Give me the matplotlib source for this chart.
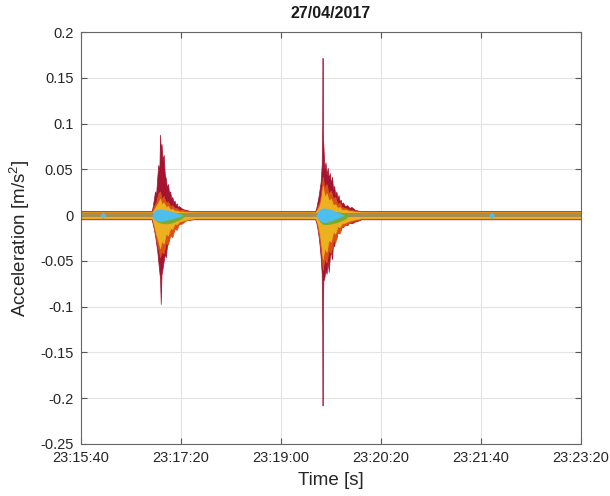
import numpy as np
import matplotlib
matplotlib.use("Agg")
import matplotlib.pyplot as plt

plt.rcParams['font.family'] = ['Liberation Sans', 'DejaVu Sans']
plt.rcParams['mathtext.fontset'] = 'custom'
plt.rcParams['mathtext.rm'] = 'Liberation Sans'
plt.rcParams['mathtext.default'] = 'regular'

# tiempo en segundos desde 23:15:40
t_start = 0.0
t_end = 460.0

# --- canal rojo (el de mayor amplitud), envolventes ---
red_t1 = [65, 66, 67, 68, 69, 70, 71, 72, 72.7, 73.3, 74, 75, 76, 77, 78, 79, 80, 81, 82,
          83, 84, 85, 86, 87, 88, 89, 90, 92, 94, 96, 99, 103]
red_up1 = [0.0045, 0.010, 0.018, 0.026, 0.022, 0.040, 0.055, 0.048, 0.088, 0.070, 0.078, 0.060,
           0.066, 0.045, 0.040, 0.030, 0.034, 0.024, 0.026, 0.018, 0.020, 0.014, 0.016, 0.011,
           0.013, 0.009, 0.010, 0.008, 0.0065, 0.006, 0.005, 0.0045]
red_lo1 = [-0.0045, -0.010, -0.015, -0.022, -0.030, -0.038, -0.050, -0.062, -0.070, -0.097, -0.065,
           -0.058, -0.050, -0.042, -0.046, -0.034, -0.030, -0.026, -0.020, -0.022, -0.016, -0.018,
           -0.013, -0.014, -0.010, -0.011, -0.008, -0.009, -0.007, -0.0055, -0.005, -0.0045]
red_t2 = [215.5, 216.5, 217.5, 218.5, 219.5, 220.5, 221.5, 222.0, 222.3, 222.6, 223, 224, 225,
          226, 227, 228, 229, 230, 231, 232, 233, 234, 235, 236, 237, 238, 239, 240, 241, 243,
          245, 247, 249, 252, 255, 258]
red_up2 = [0.0045, 0.008, 0.014, 0.020, 0.028, 0.036, 0.055, 0.100, 0.172, 0.090, 0.078, 0.050,
           0.058, 0.044, 0.052, 0.040, 0.046, 0.034, 0.042, 0.028, 0.032, 0.022, 0.026, 0.018,
           0.022, 0.015, 0.017, 0.012, 0.014, 0.010, 0.011, 0.008, 0.009, 0.006, 0.005, 0.0045]
red_lo2 = [-0.0045, -0.008, -0.014, -0.022, -0.032, -0.045, -0.064, -0.120, -0.208, -0.110, -0.072,
           -0.068, -0.060, -0.064, -0.050, -0.062, -0.045, -0.040, -0.048, -0.030, -0.034, -0.024,
           -0.026, -0.018, -0.020, -0.015, -0.016, -0.012, -0.013, -0.010, -0.011, -0.008, -0.009,
           -0.007, -0.006, -0.0045]

# --- naranja y amarillo, grilla de 2 s ---
ev1_t = [65.5, 67, 69, 71, 72.7, 74, 76, 78, 80, 82, 84, 86, 88, 90, 93, 96, 100, 105]
ev2_t = [216, 218, 220, 221.5, 222.5, 224, 226, 228, 230, 232, 234, 236, 238, 240, 243, 247, 252, 258]

ora_up1 = [0.0040, 0.010, 0.014, 0.024, 0.026, 0.018, 0.021, 0.014, 0.015, 0.010, 0.011, 0.008,
           0.008, 0.006, 0.006, 0.005, 0.0045, 0.0040]
ora_lo1 = [-0.0040, -0.014, -0.026, -0.036, -0.046, -0.040, -0.042, -0.030, -0.032, -0.022, -0.024,
           -0.015, -0.016, -0.010, -0.009, -0.006, -0.005, -0.0040]
ora_up2 = [0.0040, 0.010, 0.016, 0.030, 0.042, 0.030, 0.034, 0.024, 0.027, 0.018, 0.020, 0.012,
           0.014, 0.009, 0.008, 0.006, 0.005, 0.0040]
ora_lo2 = [-0.0040, -0.014, -0.030, -0.046, -0.060, -0.048, -0.052, -0.038, -0.042, -0.028, -0.030,
           -0.019, -0.020, -0.013, -0.011, -0.008, -0.006, -0.0040]

yel_up1 = [0.0032, 0.006, 0.010, 0.014, 0.018, 0.012, 0.014, 0.009, 0.010, 0.006, 0.007, 0.005,
           0.005, 0.004, 0.004, 0.0035, 0.0033, 0.0032]
yel_lo1 = [-0.0032, -0.010, -0.020, -0.028, -0.036, -0.028, -0.031, -0.020, -0.022, -0.014, -0.015,
           -0.009, -0.010, -0.007, -0.006, -0.005, -0.004, -0.0032]
yel_up2 = [0.0032, 0.007, 0.012, 0.022, 0.032, 0.020, 0.024, 0.016, 0.018, 0.011, 0.012, 0.008,
           0.009, 0.006, 0.006, 0.0045, 0.004, 0.0032]
yel_lo2 = [-0.0032, -0.010, -0.022, -0.036, -0.048, -0.036, -0.040, -0.027, -0.029, -0.018, -0.020,
           -0.012, -0.013, -0.009, -0.008, -0.006, -0.0045, -0.0032]

# verde: casi oculto, asoma por debajo del celeste
gre_t1 = [66, 69, 72, 76, 80, 84, 88, 92, 96]
gre_up1 = [0.0, 0.003, 0.004, 0.004, 0.0035, 0.003, 0.0025, 0.002, 0.0]
gre_lo1 = [0.0, -0.006, -0.008, -0.009, -0.009, -0.008, -0.006, -0.004, 0.0]
gre_t2 = [217, 220, 223, 227, 231, 235, 239, 243, 247]
gre_up2 = [0.0, 0.004, 0.005, 0.0045, 0.004, 0.0035, 0.003, 0.002, 0.0]
gre_lo2 = [0.0, -0.007, -0.010, -0.010, -0.009, -0.008, -0.006, -0.004, 0.0]

# celeste: solo aparece en los eventos y en dos pequeños picos
cya_t1 = [65.5, 67, 69, 71, 73, 75, 78, 81, 84, 87, 90, 93]
cya_up1 = [0.0, 0.004, 0.0055, 0.006, 0.0065, 0.006, 0.0055, 0.0045, 0.0035, 0.0025, 0.0015, 0.0]
cya_t2 = [216.5, 218, 220, 222, 224, 227, 230, 233, 236, 239, 242]
cya_up2 = [0.0, 0.004, 0.006, 0.0075, 0.0075, 0.007, 0.006, 0.0045, 0.003, 0.0015, 0.0]
cya_blip_t = [[17.5, 20, 22.5], [375.5, 378, 380.5]]
cya_blip_up = [0.0, 0.003, 0.0]

# ruido de fondo azul/gris (semiancho)
blue_band = 0.0024

x_ticks = [0, 92, 184, 276, 368, 460]
x_labels = ["23:15:40", "23:17:20", "23:19:00", "23:20:20", "23:21:40", "23:23:20"]
y_ticks = [-0.25, -0.2, -0.15, -0.1, -0.05, 0, 0.05, 0.1, 0.15, 0.2]
y_labels = ["-0.25", "-0.2", "-0.15", "-0.1", "-0.05", "0", "0.05", "0.1", "0.15", "0.2"]


def channel(t1, up1, lo1, t2, up2, lo2):
    # serie completa: fondo + evento 1 + fondo + evento 2 + fondo
    t = np.concatenate([[t_start], t1, t2, [t_end]])
    up = np.concatenate([[up1[0]], up1, up2, [up2[-1]]])
    lo = np.concatenate([[lo1[0]], lo1, lo2, [lo2[-1]]])
    return t, up, lo


fig = plt.figure(figsize=(6.1, 4.96), dpi=100)
ax = fig.add_axes([0.133, 0.105, 0.819, 0.830])

ax.grid(True, color='#e3e3e3', linewidth=0.8)
ax.set_axisbelow(True)

canales = [
    (red_t1, red_up1, red_lo1, red_t2, red_up2, red_lo2, '#A2142F'),
    (ev1_t, ora_up1, ora_lo1, ev2_t, ora_up2, ora_lo2, '#D95319'),
    (ev1_t, yel_up1, yel_lo1, ev2_t, yel_up2, yel_lo2, '#EDB120'),
]
for t1, up1, lo1, t2, up2, lo2, c in canales:
    t, up, lo = channel(t1, up1, lo1, t2, up2, lo2)
    ax.fill_between(t, lo, up, color=c, linewidth=0.5, edgecolor=c)

# banda de ruido gris-azulada en el centro
ax.fill_between([t_start, t_end], [-blue_band, -blue_band], [blue_band, blue_band],
                color='#5c6f80', linewidth=0, alpha=0.5)

for tt, uu, ll in [(gre_t1, gre_up1, gre_lo1), (gre_t2, gre_up2, gre_lo2)]:
    ax.fill_between(tt, ll, uu, color='#77AC30', linewidth=0.3, edgecolor='#77AC30')

for tt, uu in [(cya_t1, cya_up1), (cya_t2, cya_up2)] + [(bt, cya_blip_up) for bt in cya_blip_t]:
    uu = np.array(uu)
    ax.fill_between(tt, -uu, uu, color='#4DBEEE', linewidth=0.4, edgecolor='#4DBEEE')

ax.set_xlim(t_start, t_end)
ax.set_ylim(-0.25, 0.2)
ax.set_xticks(x_ticks)
ax.set_xticklabels(x_labels)
ax.set_yticks(y_ticks)
ax.set_yticklabels(y_labels)
ax.tick_params(direction='in', top=True, right=True, length=4, width=0.8,
               colors='#555555', labelcolor='#262626', labelsize=10.5)
ax.tick_params(axis='x', pad=5)
ax.tick_params(axis='y', pad=5.5)
for s in ax.spines.values():
    s.set_color('#666666')
    s.set_linewidth(0.8)

ax.set_xlabel('Time [s]', fontsize=13.5, color='#262626', labelpad=5)
ax.set_ylabel('Acceleration [m/s$^2$]', fontsize=13.5, color='#262626', labelpad=6)
ax.set_title('27/04/2017', fontsize=11.5, fontweight='bold', color='#1a1a1a', pad=10)

fig.savefig('out.png', dpi=100)
